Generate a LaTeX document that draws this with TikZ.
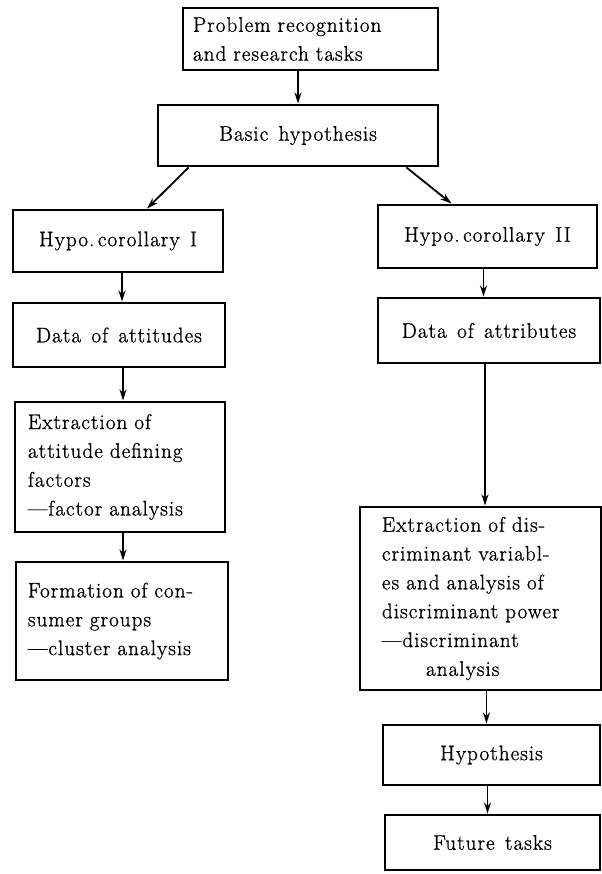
\documentclass[tikz,border=0pt]{standalone}
\usepackage{fontspec}
\setmainfont{Latin Modern Roman}[LetterSpace=5, WordSpace=1.4, FakeBold=1]
\usetikzlibrary{arrows.meta}
\begin{document}
\begin{tikzpicture}[x=0.025cm,y=-0.025cm,
  every node/.style={font=\fontsize{15}{20.5}\selectfont},
  box/.style={draw, line width=2pt, inner ysep=0.1cm},
  lbox/.style={box, align=left, text width=#1},
  link/.style={-{Stealth[length=8pt,width=5pt]}, line width=1.3pt}]

\useasboundingbox (0,0) rectangle (602,874);


\node [lbox=5.875cm, inner xsep=0.25cm, minimum width=6.375cm, minimum height=1.55cm] (dgm-problem) at (310.5,39){Problem recognition\\and research tasks};

\node [box, minimum width=7cm, minimum height=1.525cm] (dgm-basic) at (298,135.5){Basic hypothesis};
\draw [link]   (dgm-basic.north |- dgm-problem.south) -- (dgm-basic.north);



\node [box, minimum width=5.25cm, minimum height=1.55cm] (dgm-hypo-1) at (118,241){Hypo.\,corollary I};
\draw [link]   ([xshift=0.8cm]dgm-basic.south west) -- ([xshift=0.725cm]dgm-hypo-1.north);

\node [box, minimum width=5.3cm, minimum height=1.6cm] (dgm-data-1) at (119,335){Data of attitudes};
\draw [link]   ([xshift=0.1cm]dgm-hypo-1.south) -- ([xshift=0.1cm]dgm-hypo-1.south |- dgm-data-1.north);

\node [lbox=4.6cm, inner xsep=0.325cm, minimum width=5.25cm, minimum height=3.25cm] (dgm-extr-1) at (120,467){Extraction of\\attitude defining\\factors\\---factor analysis};
\draw [link]   ([xshift=0.1cm]dgm-data-1.south) -- ([xshift=0.1cm]dgm-data-1.south |- dgm-extr-1.north);

\node [lbox=4.7cm, inner xsep=0.3cm, minimum width=5.3cm, minimum height=2.95cm] (dgm-form-1) at (122,621){Formation of con-\\sumer groups\\---cluster analysis};
\draw [link]   ([xshift=0.075cm]dgm-extr-1.south) -- ([xshift=0.075cm]dgm-extr-1.south |- dgm-form-1.north);



\node [box, minimum width=5.475cm, minimum height=1.575cm] (dgm-hypo-2) at (487.5,236.5){Hypo.\,corollary II};
\draw [link]   ([xshift=-0.825cm]dgm-basic.south east) -- ([xshift=-0.9cm]dgm-hypo-2.north);

\node [box, minimum width=5.55cm, minimum height=1.625cm] (dgm-data-2) at (489,330.5){Data of attributes};
\draw [link]   ([xshift=-0.1cm]dgm-hypo-2.south) -- ([xshift=-0.1cm]dgm-hypo-2.south |- dgm-data-2.north);

\node [lbox=4.925cm, inner xsep=0.55cm, minimum width=6.025cm, minimum height=4.575cm] (dgm-extr-2) at (480.5,598.5){Extraction of dis-\\criminant variabl-\\es and analysis of\\discriminant power\\---discriminant\\\hspace*{1.1cm}analysis};
\draw [link]   ([xshift=-0.1cm]dgm-data-2.south) -- ([xshift=-0.1cm]dgm-data-2.south |- dgm-extr-2.north);

\node [box, minimum width=5.425cm, minimum height=1.5cm] (dgm-hypo-3) at (491.5,755){Hypothesis};
\draw [link]   ([xshift=0.15cm]dgm-extr-2.south) -- ([xshift=0.15cm]dgm-extr-2.south |- dgm-hypo-3.north);

\node [box, minimum width=5.375cm, minimum height=1.375cm] (dgm-future) at (492.5,842.5){Future tasks};
\draw [link]   ([xshift=-0.1cm]dgm-hypo-3.south) -- ([xshift=-0.1cm]dgm-hypo-3.south |- dgm-future.north);


%%%%%%%%%%%%%%%%%%%%%%%%%%%%%%%%%%%%%%%%%%%%%%%%%%%%%%%%%%%%%%%%%

\end{tikzpicture}
\end{document}
